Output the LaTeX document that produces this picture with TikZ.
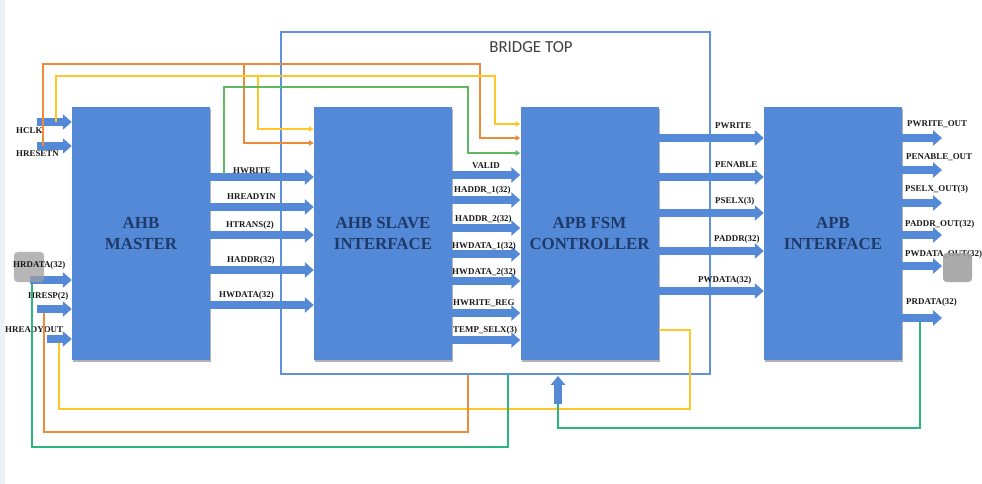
\documentclass[tikz,border=0pt]{standalone}
\usepackage{fontspec}
\setmainfont{Liberation Serif}
\newfontfamily\carl{Carlito}
\usetikzlibrary{arrows.meta,shadows}
\definecolor{blk}{HTML}{5389D6}
\definecolor{navy}{HTML}{1F3A68}
\definecolor{bord}{HTML}{5E93DB}
\definecolor{wor}{HTML}{EF8A3A}
\definecolor{wye}{HTML}{FFC628}
\definecolor{wgr}{HTML}{5DB860}
\definecolor{wtl}{HTML}{2DB57E}
\definecolor{txt}{HTML}{1A1A1A}
\definecolor{edge}{HTML}{EDF2F7}
\tikzset{
 block/.style={fill=blk, minimum width=4.14cm, minimum height=7.59cm, inner sep=0, align=center,
   text=navy, font=\fontsize{14.4pt}{17.9pt}\selectfont\bfseries,
   drop shadow={shadow xshift=1.2pt, shadow yshift=-1.5pt, opacity=0.3, fill=black}},
 bigarr/.style={draw=blk, line width=6.8pt, -{Triangle[length=7.6pt,width=12.8pt]}},
 sig/.style={inner sep=0, anchor=west, text=txt, font=\fontsize{7.6pt}{9pt}\selectfont\bfseries},
 wire/.style={line width=1.3pt},
 wtip/.style={-{Triangle[length=4pt,width=4.5pt]}},
 graybox/.style={fill=black!38, rounded corners=3pt, draw=none},
}
\begin{document}
\begin{tikzpicture}[x=0.03cm,y=-0.03cm]
\useasboundingbox (0,0) rectangle (982,484);
\fill[edge] (0,0) rectangle (5,484);

% bridge
\node[draw=bord, line width=1.6pt, minimum width=12.87cm, minimum height=10.26cm, inner sep=0] (bridge) at (495.5,203) {};
\node[font=\carl\fontsize{14.4pt}{17pt}\selectfont, text=black!75, inner sep=0] (btitle) at (531,47) {BRIDGE TOP};

% blocks
\node[block] (master) at (141,233.5) {AHB\\MASTER};
\node[block] (slave) at (383,233.5) {AHB SLAVE\\INTERFACE};
\node[block] (fsm) at (589.5,233.5) {APB FSM\\CONTROLLER};
\node[block] (apb) at (833,233.5) {APB\\INTERFACE};

% inputs to master
\coordinate (hclk) at (37,122);
\coordinate (hrst) at (37,146);
\coordinate (hrdata) at (30,280);
\coordinate (hresp) at (37,309);
\coordinate (hrdyo) at (47,339);
\draw[bigarr] (hclk) -- (master.west |- hclk);
\draw[bigarr] (hrst) -- (master.west |- hrst);
\draw[bigarr] (hrdata) -- (master.west |- hrdata);
\draw[bigarr] (hresp) -- (master.west |- hresp);
\draw[bigarr] (hrdyo) -- (master.west |- hrdyo);
\node[graybox, opacity=0.75, minimum width=0.9cm, minimum height=0.9cm, inner sep=0] (gl) at (29,267) {};
\node[sig] (lhclk) at (16,131) {HCLK};
\node[sig] (lhrst) at (16,154) {HRESETN};
\node[sig] (lhrdata) at (13,265) {HRDATA(32)};
\node[sig] (lhresp) at (28,296) {HRESP(2)};
\node[sig] (lhrdyo) at (5,330) {HREADYOUT};

% master -> slave
\foreach \yy in {177,207,235,270,305}
  \draw[bigarr] (master.east |- 0,\yy) -- (slave.west |- 0,\yy);
\node[sig] (l1) at (233,171) {HWRITE};
\node[sig] (l2) at (227,197) {HREADYIN};
\node[sig] (l3) at (226,225) {HTRANS(2)};
\node[sig] (l4) at (227,260) {HADDR(32)};
\node[sig] (l5) at (219,295) {HWDATA(32)};

% slave -> fsm
\foreach \yy in {175,200,228,254,281,313,340}
  \draw[bigarr] (slave.east |- 0,\yy) -- (fsm.west |- 0,\yy);
\node[sig] (m1) at (472,166) {VALID};
\node[sig] (m2) at (454,190) {HADDR\_1(32)};
\node[sig] (m3) at (455,219) {HADDR\_2(32)};
\node[sig] (m4) at (452,246) {HWDATA\_1(32)};
\node[sig] (m5) at (452,272) {HWDATA\_2(32)};
\node[sig] (m6) at (453,303) {HWRITE\_REG};
\node[sig] (m7) at (453,330) {TEMP\_SELX(3)};

% fsm -> apb
\foreach \yy in {138,177,213,251,291}
  \draw[bigarr] (fsm.east |- 0,\yy) -- (apb.west |- 0,\yy);
\node[sig] (n1) at (715,126) {PWRITE};
\node[sig] (n2) at (715,165) {PENABLE};
\node[sig] (n3) at (715,201) {PSELX(3)};
\node[sig] (n4) at (714,239) {PADDR(32)};
\node[sig] (n5) at (698,280) {PWDATA(32)};

% apb outputs
\coordinate (o1) at (942,138);
\coordinate (o2) at (942,170);
\coordinate (o3) at (942,203);
\coordinate (o4) at (942,235);
\coordinate (o5) at (942,266);
\coordinate (o6) at (942,318);
\foreach \c in {o1,o2,o3,o4,o5,o6}
  \draw[bigarr] (apb.east |- \c) -- (\c);
\node[sig] (p1) at (907,124) {PWRITE\_OUT};
\node[sig] (p2) at (906,157) {PENABLE\_OUT};
\node[sig] (p3) at (905,189) {PSELX\_OUT(3)};
\node[sig] (p4) at (905,224) {PADDR\_OUT(32)};
\node[sig] (p5) at (905,254) {PWDATA\_OUT(32)};
\node[sig] (p6) at (906,302) {PRDATA(32)};
\node[graybox, opacity=0.88, minimum width=0.87cm, minimum height=0.87cm, inner sep=0] (gr) at (957.5,267.5) {};

% fsm bottom arrow
\coordinate (upt) at (558,404);
\coordinate (uph) at (558,376);
\draw[draw=blk, line width=6pt, -{Triangle[length=7.6pt,width=12pt]}] (upt) -- (uph);

% top wires
\draw[wire, draw=wor, wtip] (43,146) -- (43,64) -- (480,64) -- (480,138) -- (fsm.west |- 0,138);
\draw[wire, draw=wor, wtip] (244,64) -- (244,143) -- (slave.west |- 0,143);
\draw[wire, draw=wye, wtip] (56,122) -- (56,76) -- (495,76) -- (495,124) -- (fsm.west |- 0,124);
\draw[wire, draw=wye, wtip] (258,76) -- (258,129) -- (slave.west |- 0,129);
\draw[wire, draw=wgr, wtip] (224,174) -- (224,87) -- (468,87) -- (468,153) -- (fsm.west |- 0,153);

% bottom wires
\draw[wire, draw=wye] (fsm.east |- 0,330) -- (690,330) -- (690,409) -- (59,409) -- (59,343);
\draw[wire, draw=wor] (44,313) -- (44,432) -- (468,432) -- (bridge.south -| 468,0);
\draw[wire, draw=wtl] (32,284) -- (32,447) -- (508,447) -- (bridge.south -| 508,0);
\draw[wire, draw=wtl] (920,322) -- (920,428) -- (558,428) -- (upt);
\end{tikzpicture}
\end{document}
